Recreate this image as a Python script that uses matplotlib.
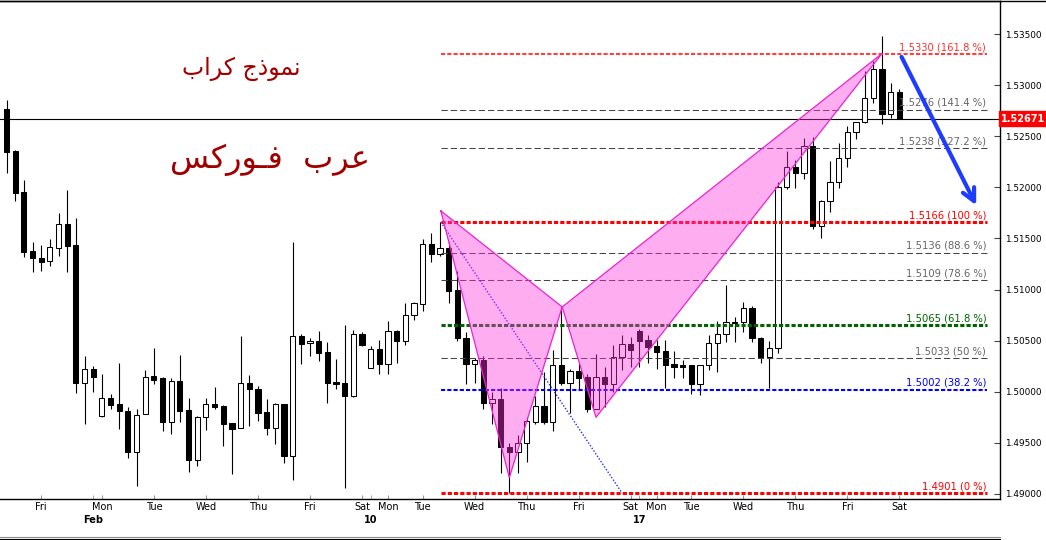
import numpy as np
import matplotlib
matplotlib.use('Agg')
import matplotlib.pyplot as plt
from matplotlib.lines import Line2D
from matplotlib.transforms import blended_transform_factory

plt.rcParams['font.family'] = ['DejaVu Sans']
plt.rcParams['lines.scale_dashes'] = False

# 4 hour candles
opens = [1.5277, 1.5236, 1.5195, 1.5138, 1.5131, 1.5128, 1.5141, 1.5164, 1.5144, 1.5009,
         1.5022, 1.4976, 1.4994, 1.4988, 1.4981, 1.4941, 1.4978, 1.5015, 1.5013, 1.4970,
         1.5011, 1.4982, 1.4933, 1.4975, 1.4988, 1.4986, 1.4969, 1.4965, 1.5009, 1.5003,
         1.4980, 1.4965, 1.4988, 1.4937, 1.5055, 1.5048, 1.5050, 1.5039, 1.5010, 1.5009,
         1.4996, 1.5057, 1.5023, 1.5042, 1.5027, 1.5059, 1.5050, 1.5075, 1.5086, 1.5145,
         1.5135, 1.5141, 1.5100, 1.5053, 1.5027, 1.5031, 1.4989, 1.4993, 1.4946, 1.4941,
         1.4950, 1.4970, 1.4986, 1.4970, 1.5026, 1.5009, 1.5020, 1.5014, 1.4983, 1.5014,
         1.5008, 1.5034, 1.5047, 1.5059, 1.5051, 1.5045, 1.5040, 1.5027, 1.5026, 1.5026,
         1.5008, 1.5026, 1.5048, 1.5057, 1.5068, 1.5068, 1.5082, 1.5053, 1.5034, 1.5043,
         1.5200, 1.5220, 1.5214, 1.5240, 1.5162, 1.5187, 1.5205, 1.5229, 1.5254, 1.5264,
         1.5287, 1.5316, 1.5272, 1.5293]
highs = [1.5285, 1.5237, 1.5207, 1.5147, 1.5144, 1.5149, 1.5175, 1.5197, 1.5170, 1.5035,
         1.5025, 1.5017, 1.4998, 1.5028, 1.4985, 1.4983, 1.5021, 1.5043, 1.5014, 1.5013,
         1.5036, 1.4994, 1.4976, 1.4994, 1.5005, 1.4987, 1.4969, 1.5055, 1.5016, 1.5006,
         1.4993, 1.4989, 1.4988, 1.5147, 1.5057, 1.5053, 1.5059, 1.5049, 1.5032, 1.5065,
         1.5060, 1.5058, 1.5045, 1.5051, 1.5069, 1.5060, 1.5087, 1.5088, 1.5149, 1.5155,
         1.5166, 1.5147, 1.5118, 1.5058, 1.5033, 1.5035, 1.5000, 1.5004, 1.4950, 1.4958,
         1.4975, 1.4996, 1.5019, 1.5041, 1.5083, 1.5022, 1.5028, 1.5017, 1.5037, 1.5024,
         1.5046, 1.5056, 1.5054, 1.5061, 1.5056, 1.5051, 1.5051, 1.5040, 1.5031, 1.5026,
         1.5026, 1.5056, 1.5069, 1.5104, 1.5073, 1.5088, 1.5084, 1.5054, 1.5050, 1.5205,
         1.5236, 1.5227, 1.5248, 1.5249, 1.5188, 1.5226, 1.5243, 1.5260, 1.5264, 1.5314,
         1.5324, 1.5348, 1.5302, 1.5296]
lows = [1.5214, 1.5187, 1.5132, 1.5117, 1.5118, 1.5123, 1.5133, 1.5117, 1.4999, 1.4968,
        1.5000, 1.4975, 1.4983, 1.4964, 1.4935, 1.4908, 1.4978, 1.5008, 1.4962, 1.4959,
        1.4970, 1.4922, 1.4927, 1.4963, 1.4983, 1.4947, 1.4920, 1.4965, 1.4967, 1.4971,
        1.4958, 1.4949, 1.4930, 1.4914, 1.5027, 1.5035, 1.5030, 1.4989, 1.5003, 1.4906,
        1.4995, 1.5045, 1.5023, 1.5017, 1.5017, 1.5028, 1.5046, 1.5070, 1.5079, 1.5127,
        1.5133, 1.5087, 1.5050, 1.5008, 1.5009, 1.4983, 1.4968, 1.4921, 1.4901, 1.4921,
        1.4931, 1.4968, 1.4968, 1.4962, 1.5007, 1.4979, 1.5002, 1.4980, 1.4983, 1.4985,
        1.5000, 1.5021, 1.5024, 1.5024, 1.5028, 1.5022, 1.5004, 1.5013, 1.5013, 1.4998,
        1.4997, 1.5021, 1.5019, 1.5049, 1.5049, 1.5058, 1.5049, 1.5028, 1.5004, 1.5038,
        1.5198, 1.5199, 1.5208, 1.5159, 1.5150, 1.5176, 1.5199, 1.5220, 1.5247, 1.5263,
        1.5283, 1.5262, 1.5268, 1.5267]
closes = [1.5235, 1.5194, 1.5137, 1.5131, 1.5127, 1.5142, 1.5164, 1.5143, 1.5009, 1.5022,
          1.5014, 1.4994, 1.4987, 1.4981, 1.4941, 1.4977, 1.5014, 1.5012, 1.4970, 1.5011,
          1.4981, 1.4933, 1.4975, 1.4988, 1.4985, 1.4968, 1.4964, 1.5009, 1.5003, 1.4979,
          1.4965, 1.4988, 1.4937, 1.5055, 1.5047, 1.5050, 1.5038, 1.5009, 1.5008, 1.4996,
          1.5057, 1.5046, 1.5042, 1.5027, 1.5059, 1.5050, 1.5075, 1.5087, 1.5145, 1.5135,
          1.5141, 1.5099, 1.5053, 1.5027, 1.5031, 1.4989, 1.4993, 1.4946, 1.4941, 1.4950,
          1.4971, 1.4986, 1.4970, 1.5026, 1.5009, 1.5020, 1.5013, 1.4983, 1.5014, 1.5008,
          1.5034, 1.5047, 1.5041, 1.5050, 1.5044, 1.5039, 1.5026, 1.5024, 1.5024, 1.5008,
          1.5026, 1.5048, 1.5057, 1.5068, 1.5067, 1.5082, 1.5053, 1.5034, 1.5043, 1.5200,
          1.5220, 1.5214, 1.5240, 1.5162, 1.5187, 1.5205, 1.5229, 1.5254, 1.5264, 1.5287,
          1.5316, 1.5272, 1.5293, 1.5267]
last_price = 1.52671

# fibonacci levels
fib_prices = [1.5330, 1.5276, 1.5238, 1.5166, 1.5136, 1.5109, 1.5065, 1.5033, 1.5002, 1.4901]
fib_pcts = ['161.8 %', '141.4 %', '127.2 %', '100 %', '88.6 %', '78.6 %', '61.8 %', '50 %', '38.2 %', '0 %']
fib_colors = ['#FF4040', '#444444', '#444444', '#FF0000', '#444444', '#444444', '#006400', '#444444', '#0000FF', '#FF0000']
fib_text_colors = ['#FF3030', '#666666', '#666666', '#FF0000', '#666666', '#666666', '#006400', '#666666', '#0000FF', '#FF0000']
fib_widths = [1.5, 0.75, 0.75, 2.2, 0.75, 0.75, 2.2, 0.75, 1.5, 2.2]

# crab pattern points X A B C D (candle index, price)
pat_x = [50.1, 58.0, 64.1, 68.0, 101.0]
pat_y = [1.5177, 1.4916, 1.5083, 1.4975, 1.5331]

# day ticks
day_pos = [4, 11, 17, 23, 29, 35, 41, 44, 48, 54, 60, 66, 72, 75, 79, 85, 91, 97, 103]
day_lbl = ['Fri', 'Mon', 'Tue', 'Wed', 'Thu', 'Fri', 'Sat', 'Mon', 'Tue', 'Wed',
           'Thu', 'Fri', 'Sat', 'Mon', 'Tue', 'Wed', 'Thu', 'Fri', 'Sat']
date_pos = [10, 42, 73]
date_lbl = ['Feb', '10', '17']

# arabic, shaped presentation forms in visual order
title1 = '\uFE8F\uFE8D\uFEAE\uFEDB \uFE9D\uFEAB\uFEEE\uFEE4\uFEE7'   # نموذج كراب
title2 = '\uFEB2\uFEDB\uFEAD\uFEEE\u0640\uFED3  \uFE8F\uFEAE\uFECB'  # عرب فـوركس

W, H = 1046, 540
fig = plt.figure(figsize=(W / 100, H / 100), dpi=100)
ax = fig.add_axes([0, 41 / H, 1000 / W, 498 / H])
ax.set_xlim(-0.75, 114.6)
ax.set_ylim(1.48951, 1.53823)

idx = np.arange(len(opens))
o = np.array(opens)
c = np.array(closes)
ax.vlines(idx, lows, highs, color='black', lw=0.8, zorder=2)
body_col = np.where(c >= o, 'white', 'black')
ax.bar(idx, np.abs(c - o), bottom=np.minimum(o, c), width=0.6, color=body_col,
       edgecolor='black', lw=0.75, zorder=3)

ax.axhline(last_price, color='black', lw=0.8, zorder=1)

# fib lines
for p, pc, col, tcol, w in zip(fib_prices, fib_pcts, fib_colors, fib_text_colors, fib_widths):
    if w > 1:
        ls = (0, (3, 1.5))
    else:
        ls = (0, (4.5, 2.2))
    ax.plot([50.1, 113.1], [p, p], color=col, lw=w, ls=ls, zorder=4)
    ax.text(113.0, p + 0.00018, '%.4f (%s)' % (p, pc), color=tcol, fontsize=7.2,
            ha='right', va='bottom', zorder=6)

ax.plot([50.1, 71.0], [fib_prices[3], fib_prices[-1]], color='#2A2AFF', lw=1.0,
        ls=(0, (1, 1.3)), zorder=5)

# crab pattern triangles
ax.fill(pat_x[:3], pat_y[:3], facecolor='#FF33DD', alpha=0.4, edgecolor='none', zorder=5)
ax.fill(pat_x[2:], pat_y[2:], facecolor='#FF33DD', alpha=0.4, edgecolor='none', zorder=5)
ax.plot(pat_x[:3] + [pat_x[0]], pat_y[:3] + [pat_y[0]], color='#EE22CC', lw=0.9, zorder=5)
ax.plot(pat_x[2:] + [pat_x[2]], pat_y[2:] + [pat_y[2]], color='#EE22CC', lw=0.9, zorder=5)

# expected move
ax.annotate('', xy=(112.0, 1.5180), xytext=(103.1, 1.5330),
            arrowprops=dict(arrowstyle='->,head_length=0.9,head_width=0.45',
                            color='#1E3CFF', lw=3), zorder=7)

# axes
ax.spines['left'].set_visible(False)
for s in ['top', 'right', 'bottom']:
    ax.spines[s].set_linewidth(1.0)
ax.yaxis.tick_right()
ax.set_yticks(np.arange(1.490, 1.5351, 0.005))
ax.set_yticklabels(['%.5f' % v for v in np.arange(1.490, 1.5351, 0.005)])
ax.tick_params(axis='y', direction='in', length=4, pad=3.5, labelsize=6.4, color='#444444')

ax.set_xticks(day_pos)
ax.set_xticklabels(day_lbl)
ax.set_xticks(date_pos, minor=True)
ax.set_xticklabels(date_lbl, minor=True, fontweight='bold')
ax.tick_params(axis='x', which='major', direction='in', length=3, pad=2.5, labelsize=7, color='#999999')
ax.tick_params(axis='x', which='minor', direction='in', length=3, pad=11.5, labelsize=7, color='#999999')

# last price box
tr = blended_transform_factory(ax.transAxes, ax.transData)
ax.text(1.001, last_price, '%.5f' % last_price, transform=tr, color='white', fontsize=7,
        fontweight='bold', ha='left', va='center', clip_on=False,
        bbox=dict(boxstyle='square,pad=0.25', fc='#FF0000', ec='#FF0000'))

fig.text(241 / W, 1 - 69 / H, title1, color='#A00000', fontsize=17, ha='center', va='center')
fig.text(270 / W, 1 - 160 / H, title2, color='#A00000', fontsize=23, ha='center', va='center')

# window border
fig.add_artist(Line2D([0, 1], [1 - 0.5 / H, 1 - 0.5 / H], transform=fig.transFigure, color='black', lw=1))
fig.add_artist(Line2D([0, 1000 / W], [3.5 / H, 3.5 / H], transform=fig.transFigure, color='#888888', lw=0.8))
fig.add_artist(Line2D([0, 1000 / W], [1.5 / H, 1.5 / H], transform=fig.transFigure, color='black', lw=0.8))

fig.savefig('out.png', dpi=100)
